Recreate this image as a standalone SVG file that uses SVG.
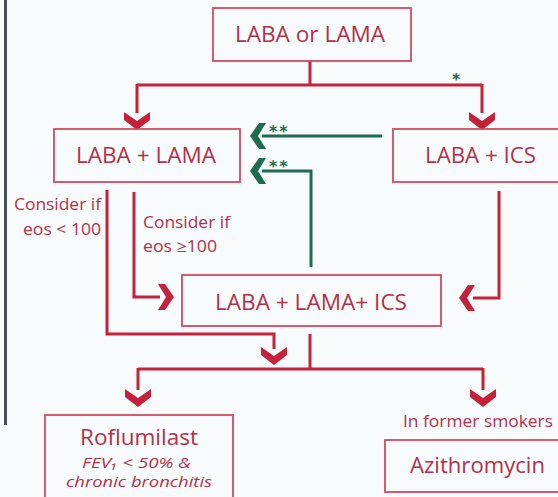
<svg xmlns="http://www.w3.org/2000/svg" width="558" height="497" viewBox="0 0 558 497">
<defs>
<style>
.box{fill:none;stroke:#d04a62;stroke-width:1.8}
.t{font-family:"Open Sans","Liberation Sans",sans-serif;fill:#b3304a}
.big{font-size:22px}
.sm{font-size:16px}
.it{font-size:15px;font-style:italic}
.red{fill:none;stroke:#c4213b;stroke-width:3}
.grn{fill:none;stroke:#1e6b50;stroke-width:3}
.rch{fill:#c4213b}
.gch{fill:#1e6b50}
.star{font-family:"DejaVu Sans",sans-serif;font-size:16px;font-weight:bold;fill:#1e6b50}
</style>
<path id="dn" d="M-13,0 L0,9 L13,0 L13,8 L0,18 L-13,8 Z"/>
<path id="lt" d="M0,0 L9,-13 L16,-13 L8,0 L16,13 L9,13 Z"/>
<path id="rt" d="M0,0 L-9,-13 L-16,-13 L-8,0 L-16,13 L-9,13 Z"/>
</defs>
<rect width="558" height="497" fill="#f8fbfc"/>
<rect x="4" y="0" width="3" height="425" fill="#4b5057"/>

<g id="connectors">
<path class="red" d="M310,61 V85 M137,85 H482 M137,84 V113 M482,84 V113"/>
<use href="#dn" x="137" y="112" class="rch"/>
<use href="#dn" x="482" y="112" class="rch"/>
<path class="red" d="M107,190 V334 H274 V349"/>
<use href="#dn" x="274" y="347" class="rch"/>
<path class="red" d="M134,192 V297 H160"/>
<use href="#rt" x="174" y="297" class="rch"/>
<path class="red" d="M499,191 V298 H473"/>
<use href="#lt" x="459" y="298" class="rch"/>
<path class="red" d="M310,334 V369 M138,369 H483 M138,368 V390 M483,368 V390"/>
<use href="#dn" x="138" y="389" class="rch"/>
<use href="#dn" x="483" y="389" class="rch"/>
<path class="grn" d="M382,136 H262"/>
<use href="#lt" x="250" y="136" class="gch"/>
<path class="grn" d="M311,267 V171 H262"/>
<use href="#lt" x="250" y="171" class="gch"/>
<text class="star" x="269" y="137" letter-spacing="2">**</text>
<text class="star" x="269" y="172" letter-spacing="2">**</text>
<text class="star" x="452" y="85">*</text>
<text class="t sm" x="101" y="210" text-anchor="end" textLength="87" lengthAdjust="spacingAndGlyphs">Consider if</text>
<text class="t sm" x="101" y="235" text-anchor="end" textLength="78" lengthAdjust="spacingAndGlyphs">eos &lt; 100</text>
<text class="t sm" x="143" y="228" textLength="87" lengthAdjust="spacingAndGlyphs">Consider if</text>
<text class="t sm" x="143" y="252" textLength="74" lengthAdjust="spacingAndGlyphs">eos ≥100</text>
</g>

<g id="n-laba-or-lama">
<rect class="box" x="213" y="8" width="198" height="53"/>
<text class="t big" x="235" y="42" textLength="150" lengthAdjust="spacingAndGlyphs">LABA or LAMA</text>
</g>
<g id="n-laba-lama">
<rect class="box" x="54" y="129" width="186" height="53"/>
<text class="t big" x="76" y="163" textLength="140" lengthAdjust="spacingAndGlyphs">LABA + LAMA</text>
</g>
<g id="n-laba-ics">
<rect class="box" x="393" y="129" width="170" height="53"/>
<text class="t big" x="425" y="163" textLength="111" lengthAdjust="spacingAndGlyphs">LABA + ICS</text>
</g>
<g id="n-triple">
<rect class="box" x="182" y="275" width="259" height="51"/>
<text class="t big" x="215" y="310" textLength="192" lengthAdjust="spacingAndGlyphs">LABA + LAMA+ ICS</text>
</g>
<g id="n-roflumilast">
<rect class="box" x="45" y="415" width="188" height="90"/>
<text class="t big" x="80" y="445" textLength="118" lengthAdjust="spacingAndGlyphs">Roflumilast</text>
<text class="t it" x="82" y="468" textLength="109" lengthAdjust="spacingAndGlyphs">FEV₁ &lt; 50% &amp;</text>
<text class="t it" x="66" y="487" textLength="146" lengthAdjust="spacingAndGlyphs">chronic bronchitis</text>
</g>
<g id="n-azithromycin">
<text class="t sm" x="403" y="427" textLength="150" lengthAdjust="spacingAndGlyphs">In former smokers</text>
<rect class="box" x="385" y="440" width="178" height="52"/>
<text class="t big" x="410" y="473" textLength="135" lengthAdjust="spacingAndGlyphs">Azithromycin</text>
</g>
</svg>
